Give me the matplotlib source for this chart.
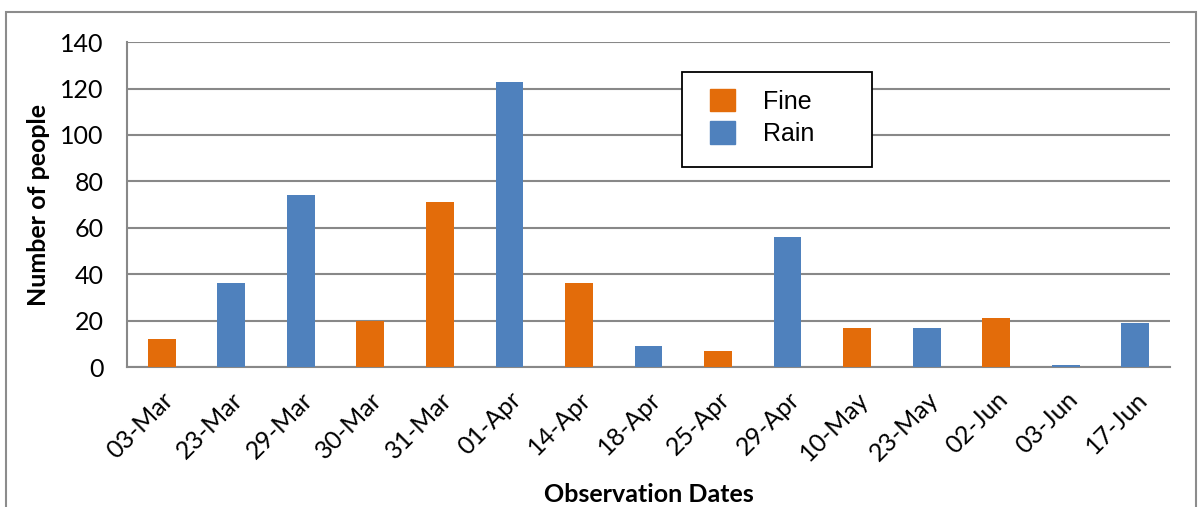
import matplotlib.pyplot as plt
from matplotlib.patches import Patch, Rectangle

# Observation data
dates = ['03-Mar', '23-Mar', '29-Mar', '30-Mar', '31-Mar', '01-Apr', '14-Apr', '18-Apr',
         '25-Apr', '29-Apr', '10-May', '23-May', '02-Jun', '03-Jun', '17-Jun']
people = [12, 36, 74, 20, 71, 123, 36, 9, 7, 56, 17, 17, 21, 1, 19]
weather = ['Fine', 'Rain', 'Rain', 'Fine', 'Fine', 'Rain', 'Fine', 'Rain',
           'Fine', 'Rain', 'Fine', 'Rain', 'Fine', 'Rain', 'Rain']

colores = {'Fine': '#E36C0A', 'Rain': '#4F81BD'}
grid_color = '#888888'

fig = plt.figure(figsize=(11.98, 5.07), dpi=100)
ax = fig.add_axes([0.106, 0.276, 0.8706, 0.641])

x = range(len(dates))
ax.bar(x, people, width=0.4, color=[colores[w] for w in weather], zorder=3)

ax.set_xlim(-0.5, len(dates) - 0.5)
ax.set_ylim(0, 140)
ax.set_yticks(range(0, 141, 20))
ax.yaxis.grid(True, color=grid_color, linewidth=1.5, zorder=0)

ax.set_xticks(list(x))
ax.set_xticklabels(dates, rotation=45, ha='right', rotation_mode='anchor',
                   fontsize=18, family='Lato')
for lbl in ax.get_yticklabels():
    lbl.set_family('Lato')
    lbl.set_fontsize(18)
ax.tick_params(axis='y', length=0, pad=17)
ax.tick_params(axis='x', length=0, pad=15)

for s in ['top', 'right']:
    ax.spines[s].set_visible(False)
for s in ['left', 'bottom']:
    ax.spines[s].set_color(grid_color)
    ax.spines[s].set_linewidth(1.5)

ax.set_ylabel('Number of people', fontsize=18, fontweight='bold', family='Lato', labelpad=7)
ax.set_xlabel('Observation Dates', fontsize=18, fontweight='bold', family='Lato', labelpad=13)

# Legenda (sem moldura; a caixa vai à parte)
handles = [Patch(color=colores['Fine'], label='Fine'),
           Patch(color=colores['Rain'], label='Rain')]
ax.legend(handles=handles, loc='upper left', bbox_to_anchor=(0.559, 0.856),
          prop={'family': 'Liberation Sans', 'size': 18}, frameon=False,
          handlelength=1.0, handleheight=1.0, handletextpad=1.1,
          borderpad=0, labelspacing=0.3, borderaxespad=0)
ax.add_patch(Rectangle((0.532, 0.615), 0.182, 0.292, transform=ax.transAxes,
                       facecolor='white', edgecolor='black', linewidth=1.3, zorder=4))

# Moldura do gráfico
fig.patches.append(Rectangle((0.005, -0.01), 0.993, 0.987, transform=fig.transFigure,
                             fill=False, edgecolor='#8c8c8c', linewidth=1.5))

plt.savefig('out.png', dpi=100)
